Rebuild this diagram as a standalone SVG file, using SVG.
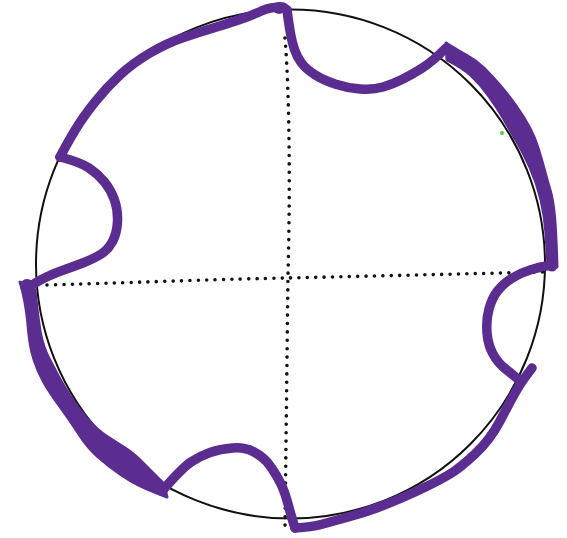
<svg xmlns="http://www.w3.org/2000/svg" width="567" height="538" viewBox="0 0 567 538">
  <style>
    .circle { fill: none; stroke: #111; stroke-width: 2; }
    .dots { fill: none; stroke: #111; stroke-width: 3.6; stroke-linecap: round; stroke-dasharray: 0 8.4; }
    .pen { fill: none; stroke: #5c2d91; stroke-width: 9.5; stroke-linecap: round; stroke-linejoin: round; }
    .band { fill: #5c2d91; stroke: #5c2d91; stroke-width: 3; stroke-linejoin: round; }
    .blob { fill: #5c2d91; }
  </style>
  <rect width="567" height="538" fill="#ffffff"/>
  <g id="circle">
    <circle class="circle" cx="290.5" cy="264" r="254.5"/>
  </g>
  <g id="axes">
    <path class="dots" d="M 285,38 C 290,100 290,200 288,275 L 285,527"/>
    <path class="dots" d="M 47,285 C 150,282 230,279 287,278 L 545,272"/>
  </g>
  <g id="outline">
    <path class="band" d="M 446,43 L 451.5,46.5 Q 457,50 467,55.5 Q 477,61 484.5,68.5 Q 492,76 500.5,86 Q 509,96 516.5,106.5 Q 524,117 529.5,127.5 Q 535,138 538.5,149.5 Q 542,161 544.5,170.5 Q 547,180 550,190 Q 553,200 554.5,216.5 Q 556,233 557,267 L 548,265 L 547.5,257.5 Q 547,250 546,233.5 Q 545,217 541,200 Q 537,183 530,167.5 Q 523,152 516.5,141 Q 510,130 503.5,118.5 Q 497,107 488.5,95.5 Q 480,84 471.5,76 Q 463,68 447,60 Z"/>
    <path class="band" d="M 20,282 L 21.5,287 Q 23,292 25,302.5 Q 27,313 28.5,330 Q 30,347 34,359.5 Q 38,372 44,382.5 Q 50,393 60,406.5 Q 70,420 78.5,433.5 Q 87,447 97.5,456.5 Q 108,466 121.5,475 Q 135,484 146,488.5 Q 157,493 167,497 L 163,483 L 156.5,476.5 Q 150,470 141.5,461.5 Q 133,453 125,448 Q 117,443 107,436.5 Q 97,430 87,418.5 Q 77,407 70,396 Q 63,385 59,377.5 Q 55,370 49,358.5 Q 43,347 40.5,333.5 Q 38,320 35,290 Z"/>
    <path class="pen" d="M 287,10 L 288,17.5 Q 289,25 290.5,33.5 Q 292,42 294.5,49.5 Q 297,57 301.5,63 Q 306,69 314.5,74.5 Q 323,80 335,84 Q 347,88 360,89 Q 373,90 383,87 Q 393,84 403,79 Q 413,74 423,67.5 Q 433,61 446,48"/>
    <path class="pen" d="M 552,265 L 546,266 Q 540,267 530,270 Q 520,273 511.5,278.5 Q 503,284 497.5,291 Q 492,298 489,309 Q 486,320 487,332.5 Q 488,345 493,354 Q 498,363 505,368.5 Q 512,374 519,380"/>
    <path class="pen" d="M 532,368 L 526,376 Q 520,384 515,393 Q 510,402 500,421 Q 490,440 475,454 Q 460,468 450,474 Q 440,480 426.5,486.5 Q 413,493 401.5,498 Q 390,503 376.5,508 Q 363,513 346.5,517.5 Q 330,522 321,524.5 Q 312,527 295,528"/>
    <path class="pen" d="M 295,528 L 293,521.5 Q 291,515 289,507.5 Q 287,500 284.5,492.5 Q 282,485 277,476.5 Q 272,468 267.5,462.5 Q 263,457 254,452 Q 245,447 232.5,448 Q 220,449 210,452.5 Q 200,456 191,462 Q 182,468 163,490"/>
    <path class="pen" d="M 163,490 L 156.5,484 Q 150,478 141.5,470.5 Q 133,463 121.5,456.5 Q 110,450 100,441 Q 90,432 82.5,421 Q 75,410 66.5,397.5 Q 58,385 50,370 Q 42,355 37.5,337.5 Q 33,320 29,287"/>
    <path class="pen" d="M 29,287 L 34.5,283.5 Q 40,280 47.5,276.5 Q 55,273 65,269.5 Q 75,266 84,262.5 Q 93,259 100.5,254.5 Q 108,250 112.5,241.5 Q 117,233 117.5,221.5 Q 118,210 114.5,200 Q 111,190 104.5,182 Q 98,174 89,168 Q 80,162 60,157"/>
    <path class="pen" d="M 60,157 L 64,149.5 Q 68,142 75.5,129.5 Q 83,117 95,102 Q 107,87 120,75 Q 133,63 150,53 Q 167,43 183.5,37.5 Q 200,32 216.5,27 Q 233,22 244,18 Q 255,14 262.5,10.5 Q 270,7 283,7 L 287,10"/>
    <circle class="blob" cx="27" cy="286" r="7"/>
    <circle class="blob" cx="279" cy="8" r="6"/>
    <circle class="blob" cx="552" cy="266" r="5.5"/>
    <circle class="blob" cx="162" cy="490" r="6"/>
  </g>
  <circle cx="502" cy="133" r="2" fill="#5ac84a"/>
</svg>
